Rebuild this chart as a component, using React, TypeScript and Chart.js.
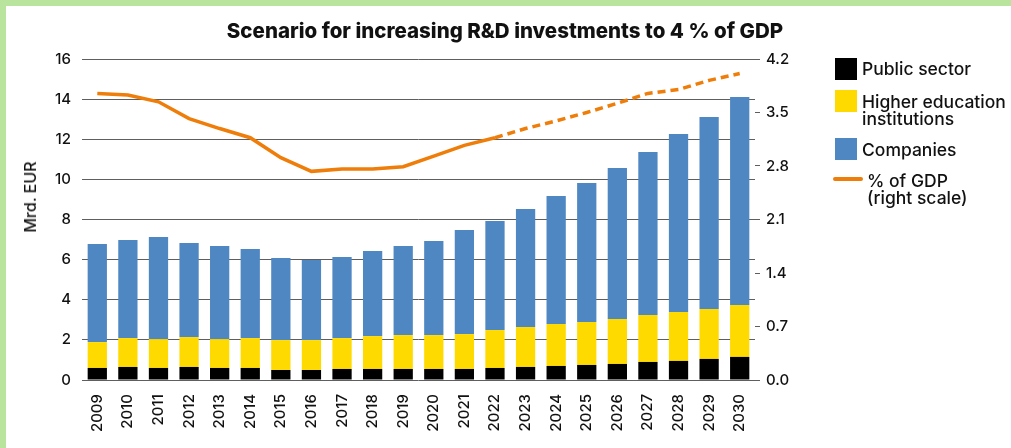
import React, { useEffect, useRef } from "react";
import { Chart, registerables } from "chart.js";

Chart.register(...registerables);

const years = ["2009","2010","2011","2012","2013","2014","2015","2016","2017","2018","2019","2020","2021","2022","2023","2024","2025","2026","2027","2028","2029","2030"];
const publicSector = [0.60,0.65,0.60,0.65,0.60,0.60,0.50,0.50,0.55,0.55,0.55,0.55,0.55,0.60,0.65,0.70,0.75,0.80,0.90,0.95,1.05,1.15];
const higherEducation = [1.29,1.44,1.44,1.49,1.44,1.49,1.49,1.49,1.54,1.64,1.69,1.69,1.74,1.89,1.99,2.09,2.14,2.24,2.34,2.44,2.49,2.59];
const companies = [4.89,4.89,5.09,4.69,4.64,4.44,4.09,3.99,4.04,4.24,4.44,4.69,5.19,5.44,5.88,6.38,6.93,7.53,8.12,8.87,9.57,10.37];
const gdpShare = [3.75,3.73,3.64,3.42,3.29,3.17,2.91,2.73,2.76,2.76,2.79,2.93,3.07,3.17,3.29,3.39,3.50,3.62,3.75,3.80,3.92,4.01];
const projectionStartIndex = 13;

const COLORS = { public: "#000000", higher: "#FFDA00", companies: "#4F87C3", gdp: "#EF7D0A" };
const FONT = "Inter, 'Noto Sans', sans-serif";

export default function App() {
  const ref = useRef<HTMLCanvasElement>(null);
  useEffect(() => {
    if (!ref.current) return;
    const chart = new Chart(ref.current, {
      type: "bar",
      data: {
        labels: years,
        datasets: [
          { type: "bar", label: "Public sector", data: publicSector, backgroundColor: COLORS.public, yAxisID: "y", order: 1, stack: "s" },
          { type: "bar", label: "Higher education institutions", data: higherEducation, backgroundColor: COLORS.higher, yAxisID: "y", order: 1, stack: "s" },
          { type: "bar", label: "Companies", data: companies, backgroundColor: COLORS.companies, yAxisID: "y", order: 1, stack: "s" },
          {
            type: "line", label: "% of GDP (right scale)", data: gdpShare, borderColor: COLORS.gdp, backgroundColor: COLORS.gdp,
            borderWidth: 3.5, pointRadius: 0, tension: 0, yAxisID: "y1", order: 0,
            segment: { borderDash: (ctx: any) => (ctx.p0DataIndex >= projectionStartIndex ? [8, 5] : undefined) },
          } as any,
        ],
      },
      options: {
        responsive: false,
        animation: false,
        devicePixelRatio: 1,
        layout: { padding: { left: 6, top: 59, right: 196, bottom: 0 } },
        plugins: { legend: { display: false }, tooltip: { enabled: false }, title: { display: false } },
        datasets: { bar: { barPercentage: 0.63, categoryPercentage: 1 } },
        scales: {
          x: {
            stacked: true,
            grid: { display: false },
            border: { display: false },
            ticks: { minRotation: 90, maxRotation: 90, padding: 6, color: "#111", font: { family: FONT, size: 15, weight: 500 } },
            afterFit: (s: any) => { s.height = 68; },
          },
          y: {
            stacked: true,
            position: "left",
            min: 0, max: 16,
            ticks: { stepSize: 2, padding: 11, color: "#111", font: { family: FONT, size: 15, weight: 500 } },
            grid: { color: "#5e5e5e", lineWidth: 1, drawTicks: false },
            border: { display: false },
            afterFit: (s: any) => { s.width = 76; },
          },
          y1: {
            position: "right",
            min: 0, max: 4.2,
            ticks: { stepSize: 0.7, padding: 6, color: "#111", font: { family: FONT, size: 15, weight: 500 }, callback: (v: any) => Number(v).toFixed(1) },
            grid: { drawOnChartArea: false, drawTicks: true, tickLength: 5, color: "#5e5e5e" },
            border: { display: false },
            afterFit: (s: any) => { s.width = 60; },
          },
        },
      } as any,
    });
    return () => chart.destroy();
  }, []);

  const sq = (color: string, top: number) => (
    <div style={{ position: "absolute", left: 835, top, width: 22, height: 22, background: color }} />
  );
  const txt: React.CSSProperties = { position: "absolute", left: 862, fontFamily: FONT, fontSize: 17.5, fontWeight: 500, lineHeight: "17px", color: "#111", whiteSpace: "nowrap" };

  return (
    <div style={{ position: "fixed", left: 0, top: 0, width: 1011, height: 448, background: "#fff", overflow: "hidden" }}>
      <div style={{ position: "absolute", left: 0, top: 0, width: 1011, height: 6, background: "#B9E49E" }} />
      <div style={{ position: "absolute", left: 0, top: 0, width: 6, height: 448, background: "#B9E49E" }} />
      <canvas ref={ref} width={1011} height={448} style={{ position: "absolute", left: 0, top: 0, width: 1011, height: 448 }} />
      <div style={{ position: "absolute", left: 0, width: 1010, top: 20, textAlign: "center", fontFamily: FONT, fontWeight: 800, fontSize: 20.5, lineHeight: "22px", color: "#111" }}>
        Scenario for increasing R&amp;D investments to 4 % of GDP
      </div>
      <div style={{ position: "absolute", left: 30, top: 197, transform: "translate(-50%, -50%) rotate(-90deg)", fontFamily: FONT, fontSize: 16, fontWeight: 500, color: "#111", whiteSpace: "nowrap" }}>
        Mrd. EUR
      </div>
      {sq(COLORS.public, 58)}
      <div style={{ ...txt, top: 60 }}>Public sector</div>
      {sq(COLORS.higher, 90)}
      <div style={{ ...txt, top: 93 }}>Higher education<br />institutions</div>
      {sq(COLORS.companies, 138)}
      <div style={{ ...txt, top: 141 }}>Companies</div>
      <div style={{ position: "absolute", left: 833, top: 177, width: 30, height: 4, background: COLORS.gdp, borderRadius: 2 }} />
      <div style={{ ...txt, left: 867, top: 172 }}>% of GDP<br />(right scale)</div>
    </div>
  );
}
